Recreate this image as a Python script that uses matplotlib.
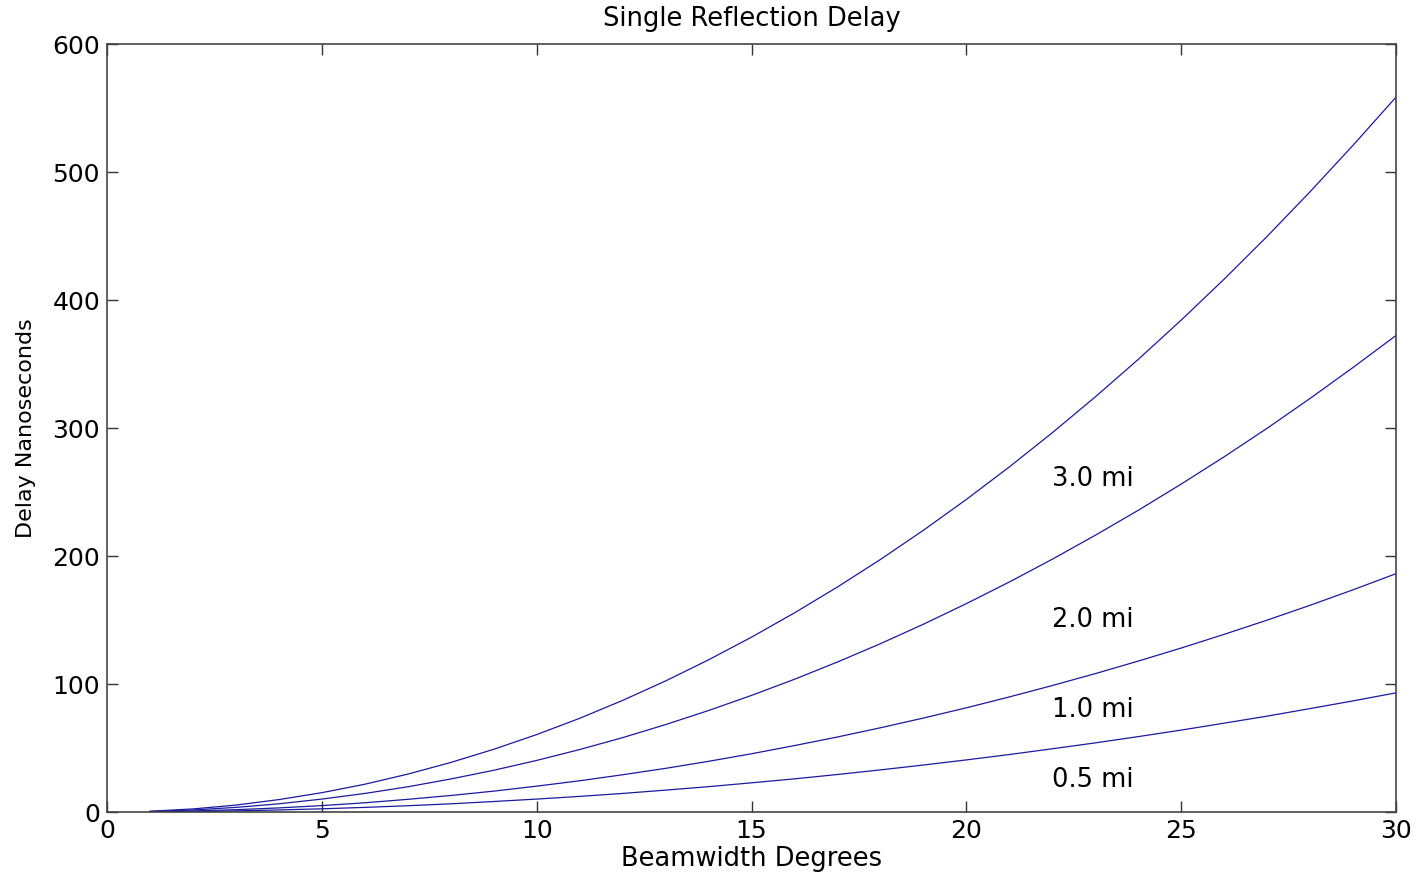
import matplotlib
matplotlib.use("Agg")
import matplotlib.pyplot as plt

plt.rcParams['font.family'] = ['DejaVu Sans']

# Beamwidth in degrees, delay in ns
beamwidth = list(range(1, 31))
delay_3mi = [0.6, 2.4, 5.4, 9.7, 15.1, 21.7, 29.6, 38.7, 49.0, 60.5,
             73.2, 87.2, 102.4, 118.9, 136.6, 155.6, 175.8, 197.3, 220.1, 244.2,
             269.6, 296.3, 324.3, 353.6, 384.3, 416.3, 449.7, 484.6, 520.9, 558.5]
delay_2mi = [0.4, 1.6, 3.6, 6.4, 10.1, 14.5, 19.7, 25.8, 32.6, 40.3,
             48.8, 58.1, 68.3, 79.3, 91.1, 103.7, 117.2, 131.5, 146.7, 162.8,
             179.7, 197.5, 216.2, 235.7, 256.2, 277.5, 299.8, 323.1, 347.3, 372.3]
delay_1mi = [0.2, 0.8, 1.8, 3.2, 5.0, 7.2, 9.9, 12.9, 16.3, 20.2,
             24.4, 29.1, 34.1, 39.6, 45.5, 51.9, 58.6, 65.8, 73.4, 81.4,
             89.9, 98.8, 108.1, 117.9, 128.1, 138.8, 149.9, 161.5, 173.6, 186.2]
delay_05mi = [0.1, 0.4, 0.9, 1.6, 2.5, 3.6, 4.9, 6.4, 8.2, 10.1,
              12.2, 14.5, 17.1, 19.8, 22.8, 25.9, 29.3, 32.9, 36.7, 40.7,
              44.9, 49.4, 54.0, 58.9, 64.0, 69.4, 74.9, 80.8, 86.8, 93.1]

labels = ["3.0 mi", "2.0 mi", "1.0 mi", "0.5 mi"]
label_x = [22.0, 22.0, 22.0, 22.0]
label_y = [260, 150, 80, 25]

fig = plt.figure(figsize=(14.18, 8.75), dpi=100)
ax = fig.add_axes([0.0755, 0.072, 0.909, 0.8777])

for d in (delay_3mi, delay_2mi, delay_1mi, delay_05mi):
    ax.plot(beamwidth, d, color="#1a1aa0", linewidth=0.9)

for lab, lx, ly in zip(labels, label_x, label_y):
    ax.text(lx, ly, lab, fontsize=18.5, va="center", ha="left")

ax.set_xlim(0, 30)
ax.set_ylim(0, 600)
ax.set_xticks(range(0, 31, 5))
ax.set_yticks(range(0, 601, 100))
ax.tick_params(direction="in", top=True, right=True, length=8, width=1,
               labelsize=18, colors="#333333", labelcolor="black", pad=5)
for s in ax.spines.values():
    s.set_color("#444444")
    s.set_linewidth(1.2)

ax.set_title("Single Reflection Delay", fontsize=18.5, pad=13)
ax.set_xlabel("Beamwidth Degrees", fontsize=18.5, labelpad=2)
ax.set_ylabel("Delay Nanoseconds", fontsize=16, labelpad=12)

fig.savefig("out.png", dpi=100)
